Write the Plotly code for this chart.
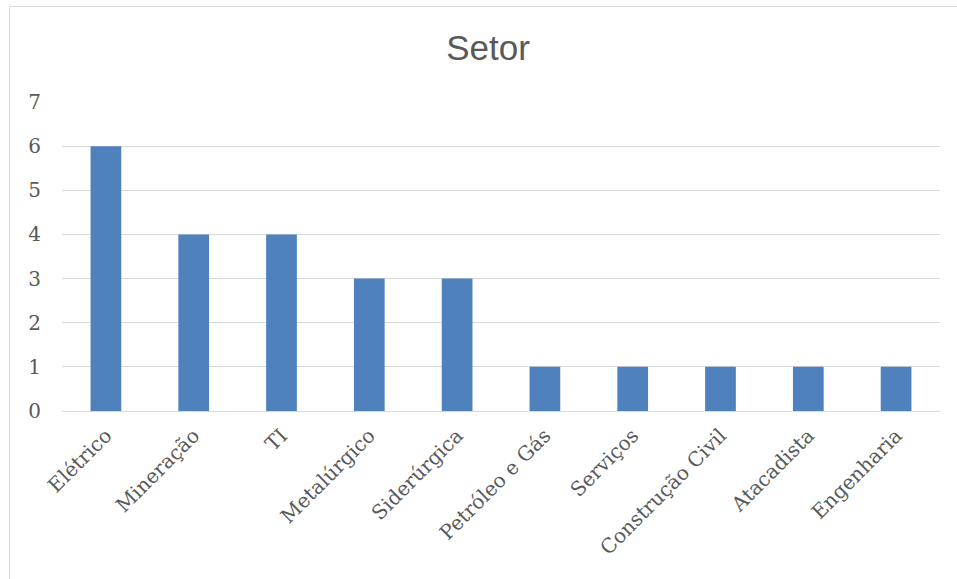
import plotly.graph_objects as go

categories = ["Elétrico", "Mineração", "TI", "Metalúrgico", "Siderúrgica",
              "Petróleo e Gás", "Serviços", "Construção Civil", "Atacadista", "Engenharia"]
values = [6, 4, 4, 3, 3, 1, 1, 1, 1, 1]
y_ticks = [0, 1, 2, 3, 4, 5, 6, 7]

W, H = 957, 579
L, R, T, B = 62, 17, 102, 168
pw = W - L - R
ph = H - T - B

fig = go.Figure(go.Bar(x=categories, y=values, marker=dict(color="#4F81BD", line=dict(width=0)),
                       hoverinfo="x+y"))

serif = "DejaVu Serif"
fs = 20
fig.update_layout(
    width=W, height=H,
    margin=dict(l=L, r=R, t=T, b=B),
    paper_bgcolor="white", plot_bgcolor="white",
    bargap=0.65,
    showlegend=False,
    title=dict(text="Setor", x=488 / W, xanchor="center", y=1 - 48 / H, yanchor="middle",
               font=dict(family="Liberation Sans", size=35, color="#595959")),
    font=dict(family=serif, color="#595959", size=fs),
)
fig.update_yaxes(range=[0, 7], tickvals=y_ticks, showgrid=True, gridcolor="#D9D9D9", gridwidth=1,
                 zeroline=False, showline=False, ticks="outside", ticklen=16, tickcolor="rgba(0,0,0,0)",
                 tickfont=dict(family=serif, size=fs, color="#595959"))
fig.update_xaxes(tickangle=-45, showline=True, linecolor="#D9D9D9", linewidth=1, showgrid=False,
                 ticks="outside", ticklen=4, tickcolor="rgba(0,0,0,0)",
                 tickfont=dict(family=serif, size=fs, color="#595959"))

# chart border (cropped at the right and bottom of the picture)
fig.add_shape(type="rect", xref="paper", yref="paper",
              x0=(9.5 - L) / pw, x1=(W + 20 - L) / pw,
              y0=-(B + 20) / ph, y1=(H - B - 6.5) / ph,
              line=dict(color="#D9D9D9", width=1), fillcolor="rgba(0,0,0,0)", layer="below")

fig.write_html("out.html")
